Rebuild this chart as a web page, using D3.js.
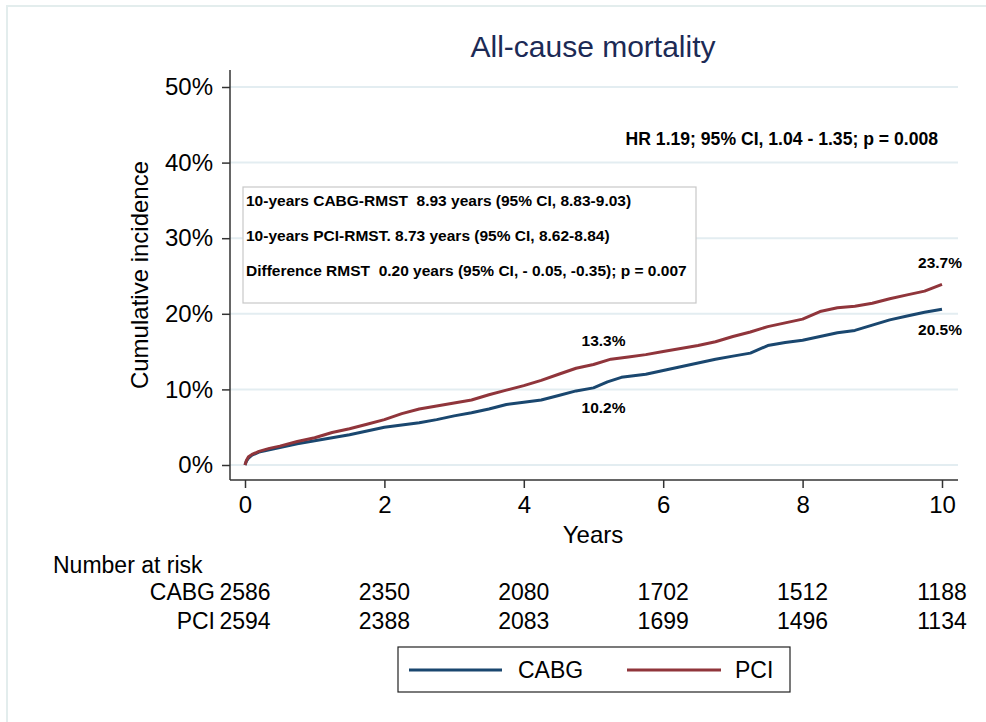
<!DOCTYPE html>
<html>
<head>
<meta charset="utf-8">
<script src="https://cdn.jsdelivr.net/npm/d3@7"></script>
<style>
  html, body { margin: 0; padding: 0; background: #ffffff; }
  svg { display: block; font-family: "Liberation Sans", Arial, Helvetica, sans-serif; }
  .pre { white-space: pre; }
</style>
</head>
<body>
<svg id="chart" width="986" height="722"></svg>
<script>
// ---------------- data ----------------
const title = "All-cause mortality";
const xTicks = [0, 2, 4, 6, 8, 10];
const yTicks = [0, 0.1, 0.2, 0.3, 0.4, 0.5];

const cabgTime = [0, 0.02, 0.05, 0.1, 0.2, 0.35, 0.5, 0.75, 1.0, 1.25, 1.5, 1.75, 2.0, 2.25, 2.5, 2.75, 3.0, 3.25, 3.5, 3.75, 4.0, 4.25, 4.5, 4.75, 5.0, 5.2, 5.4, 5.75, 6.0, 6.25, 6.5, 6.75, 7.0, 7.25, 7.5, 7.75, 8.0, 8.25, 8.5, 8.75, 9.0, 9.25, 9.5, 9.75, 10.0];
const cabgIncidence = [0, 0.5, 0.9, 1.3, 1.7, 2.0, 2.3, 2.8, 3.2, 3.6, 4.0, 4.5, 5.0, 5.3, 5.6, 6.0, 6.5, 6.9, 7.4, 8.0, 8.3, 8.6, 9.2, 9.8, 10.2, 11.0, 11.6, 12.0, 12.5, 13.0, 13.5, 14.0, 14.4, 14.8, 15.8, 16.2, 16.5, 17.0, 17.5, 17.8, 18.5, 19.2, 19.7, 20.2, 20.6];

const pciTime = [0, 0.02, 0.05, 0.1, 0.2, 0.35, 0.5, 0.75, 1.0, 1.25, 1.5, 1.75, 2.0, 2.25, 2.5, 2.75, 3.0, 3.25, 3.5, 3.75, 4.0, 4.25, 4.5, 4.75, 5.0, 5.25, 5.5, 5.75, 6.0, 6.25, 6.5, 6.75, 7.0, 7.25, 7.5, 7.75, 8.0, 8.25, 8.5, 8.75, 9.0, 9.25, 9.5, 9.75, 10.0];
const pciIncidence = [0, 0.6, 1.1, 1.4, 1.8, 2.2, 2.5, 3.1, 3.6, 4.3, 4.8, 5.4, 6.0, 6.8, 7.4, 7.8, 8.2, 8.6, 9.3, 9.9, 10.5, 11.2, 12.0, 12.8, 13.3, 14.0, 14.3, 14.6, 15.0, 15.4, 15.8, 16.3, 17.0, 17.6, 18.3, 18.8, 19.3, 20.3, 20.8, 21.0, 21.4, 22.0, 22.5, 23.0, 23.9];

const riskTimes = [0, 2, 4, 6, 8, 10];
const cabgAtRisk = [2586, 2350, 2080, 1702, 1512, 1188];
const pciAtRisk = [2594, 2388, 2083, 1699, 1496, 1134];

const seriesNames = ["CABG", "PCI"];
const seriesColors = ["#1a476f", "#90353b"];

const hrText = "HR 1.19; 95% CI, 1.04 - 1.35; p = 0.008";
const boxLines = [
  "10-years CABG-RMST  8.93 years (95% CI, 8.83-9.03)",
  "10-years PCI-RMST. 8.73 years (95% CI, 8.62-8.84)",
  "Difference RMST  0.20 years (95% CI, - 0.05, -0.35); p = 0.007"
];
const annotations = [
  { t: 5.0, v: 13.3, text: "13.3%", pos: "above" },
  { t: 5.0, v: 10.2, text: "10.2%", pos: "below" },
  { t: 10.0, v: 23.7, text: "23.7%", pos: "above" },
  { t: 10.0, v: 20.5, text: "20.5%", pos: "below" }
];

// ---------------- layout ----------------
const svg = d3.select("#chart");
const plotLeft = 230, plotRight = 958, plotTop = 70, plotBottom = 480;
const x = d3.scaleLinear().domain([0, 10]).range([245, 942]);
const y = d3.scaleLinear().domain([0, 0.5]).range([465, 87]);

// outer frame
svg.append("rect")
  .attr("x", 7).attr("y", 6).attr("width", 1000).attr("height", 740)
  .attr("fill", "none").attr("stroke", "#e3eded").attr("stroke-width", 2);

// title
svg.append("text")
  .attr("x", 593).attr("y", 57)
  .attr("text-anchor", "middle")
  .attr("font-size", 30)
  .attr("fill", "#1c2a55")
  .text(title);

// gridlines
svg.append("g").selectAll("line")
  .data(yTicks)
  .join("line")
  .attr("x1", plotLeft).attr("x2", plotRight)
  .attr("y1", d => y(d)).attr("y2", d => y(d))
  .attr("stroke", "#e3edf1").attr("stroke-width", 2);

// axes
const yAxis = d3.axisLeft(y).tickValues(yTicks).tickFormat(d3.format(".0%")).tickSize(8).tickPadding(9);
const gy = svg.append("g").attr("transform", `translate(${plotLeft},0)`).call(yAxis);
gy.select(".domain").remove();
gy.selectAll(".tick line").attr("stroke", "#333").attr("stroke-width", 1.5);
gy.selectAll(".tick text").attr("font-size", 24).attr("fill", "#000").attr("font-family", "Liberation Sans, Arial, sans-serif");

const xAxis = d3.axisBottom(x).tickValues(xTicks).tickFormat(d3.format("d")).tickSize(8).tickPadding(8);
const gx = svg.append("g").attr("transform", `translate(0,${plotBottom})`).call(xAxis);
gx.select(".domain").remove();
gx.selectAll(".tick line").attr("stroke", "#333").attr("stroke-width", 1.5);
gx.selectAll(".tick text").attr("font-size", 24).attr("fill", "#000").attr("font-family", "Liberation Sans, Arial, sans-serif");

// axis lines
svg.append("line").attr("x1", plotLeft).attr("x2", plotLeft).attr("y1", plotTop).attr("y2", plotBottom)
  .attr("stroke", "#333").attr("stroke-width", 1.5);
svg.append("line").attr("x1", plotLeft).attr("x2", plotRight).attr("y1", plotBottom).attr("y2", plotBottom)
  .attr("stroke", "#333").attr("stroke-width", 1.5);

// axis titles
svg.append("text")
  .attr("transform", "translate(148,275) rotate(-90)")
  .attr("text-anchor", "middle")
  .attr("font-size", 24)
  .text("Cumulative incidence");
svg.append("text")
  .attr("x", 593).attr("y", 543)
  .attr("text-anchor", "middle")
  .attr("font-size", 24)
  .text("Years");

// curves
const line = d3.line().x(d => x(d[0])).y(d => y(d[1] / 100)).curve(d3.curveLinear);
const cabgData = cabgTime.map((t, i) => [t, cabgIncidence[i]]);
const pciData = pciTime.map((t, i) => [t, pciIncidence[i]]);
[cabgData, pciData].forEach((data, i) => {
  svg.append("path")
    .datum(data)
    .attr("d", line)
    .attr("fill", "none")
    .attr("stroke", seriesColors[i])
    .attr("stroke-width", 3)
    .attr("stroke-linejoin", "round");
});

// HR text
svg.append("text")
  .attr("x", 938).attr("y", 145)
  .attr("text-anchor", "end")
  .attr("font-size", 17.6)
  .attr("font-weight", "bold")
  .text(hrText);

// RMST box
svg.append("rect")
  .attr("x", 243).attr("y", 187).attr("width", 453).attr("height", 116)
  .attr("fill", "#ffffff").attr("stroke", "#c8c8c8").attr("stroke-width", 1.2);
svg.append("g").selectAll("text")
  .data(boxLines)
  .join("text")
  .attr("class", "pre")
  .attr("x", 246)
  .attr("y", (d, i) => 206 + i * 35)
  .attr("font-size", 15.5)
  .attr("font-weight", "bold")
  .text(d => d);

// point annotations
svg.append("g").selectAll("text")
  .data(annotations)
  .join("text")
  .attr("x", d => Math.min(x(d.t) + 10, x(10) - 2))
  .attr("y", d => d.pos === "above" ? y(d.v / 100) - 18 : y(d.v / 100) + 25)
  .attr("text-anchor", "middle")
  .attr("font-size", 15.5)
  .attr("font-weight", "bold")
  .text(d => d.text);

// number at risk
svg.append("text").attr("x", 53).attr("y", 573).attr("font-size", 23).text("Number at risk");
[cabgAtRisk, pciAtRisk].forEach((vals, r) => {
  const yy = 600 + r * 29;
  svg.append("text")
    .attr("x", x(0) - 30).attr("y", yy)
    .attr("text-anchor", "end")
    .attr("font-size", 23)
    .text(seriesNames[r]);
  svg.append("g").selectAll("text")
    .data(vals)
    .join("text")
    .attr("x", (d, i) => x(riskTimes[i]))
    .attr("y", yy)
    .attr("text-anchor", "middle")
    .attr("font-size", 23)
    .text(d => d);
});

// legend
const lg = svg.append("g");
lg.append("rect")
  .attr("x", 398).attr("y", 647).attr("width", 392).attr("height", 45)
  .attr("fill", "#fff").attr("stroke", "#222").attr("stroke-width", 1.2);
const legendItems = [
  { x1: 409, x2: 502, tx: 518 },
  { x1: 627, x2: 721, tx: 735 }
];
legendItems.forEach((it, i) => {
  lg.append("line").attr("x1", it.x1).attr("x2", it.x2).attr("y1", 670).attr("y2", 670)
    .attr("stroke", seriesColors[i]).attr("stroke-width", 3);
  lg.append("text").attr("x", it.tx).attr("y", 678).attr("font-size", 23).text(seriesNames[i]);
});
</script>
</body>
</html>
